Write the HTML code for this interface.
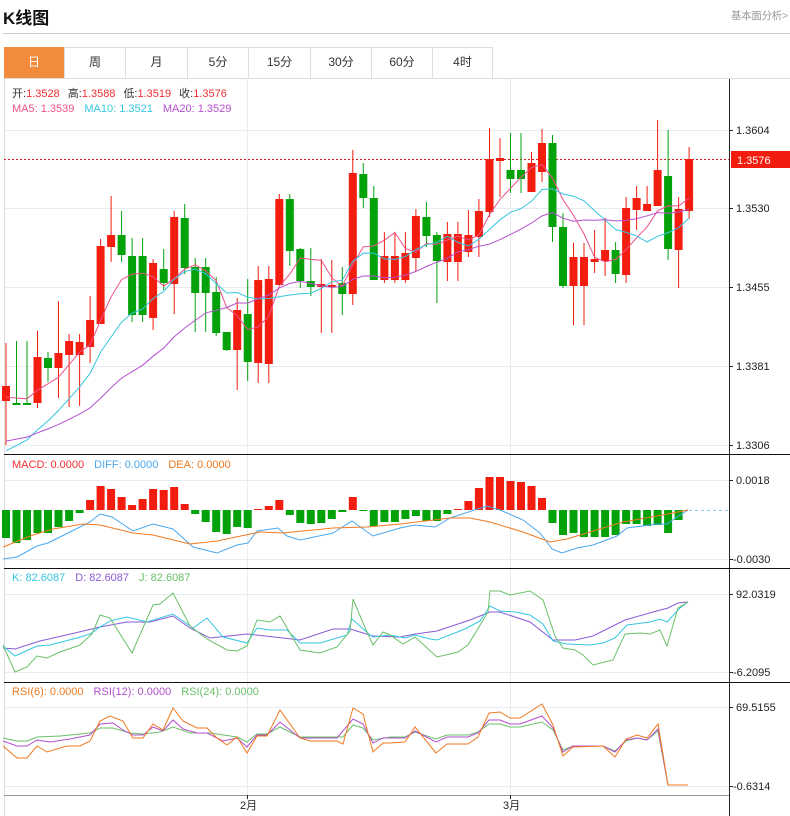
<!DOCTYPE html>
<html><head><meta charset="utf-8"><style>
body{margin:0;width:790px;height:816px;background:#fff;font-family:"Liberation Sans","Noto Sans CJK SC",sans-serif;overflow:hidden;position:relative}
.t{position:absolute;white-space:nowrap}
.tab{position:absolute;top:47px;height:31px;line-height:31px;text-align:center;font-size:12px;color:#333;border-right:1px solid #ddd;box-sizing:border-box}
</style></head><body>
<div class="t" style="left:3px;top:4px;font-size:17px;font-weight:bold;color:#111">K线图</div>
<div class="t" style="left:731px;top:8px;font-size:10.5px;color:#999;letter-spacing:-0.3px">基本面分析&gt;</div>
<div style="position:absolute;left:3px;top:33px;width:787px;height:1px;background:#ccc"></div>
<div style="position:absolute;left:4px;top:47px;width:489px;height:31px;border:1px solid #ddd;border-bottom:none;box-sizing:border-box"></div>
<div style="position:absolute;left:4px;top:78px;width:786px;height:1px;background:#ddd"></div>
<div class="tab" style="left:4px;width:61px;background:#f28c3c;color:#fff">日</div>
<div class="tab" style="left:65px;width:61px">周</div>
<div class="tab" style="left:126px;width:62px">月</div>
<div class="tab" style="left:188px;width:61px">5分</div>
<div class="tab" style="left:249px;width:62px">15分</div>
<div class="tab" style="left:311px;width:61px">30分</div>
<div class="tab" style="left:372px;width:61px">60分</div>
<div class="tab" style="left:433px;width:60px">4时</div>
<svg id="s" width="790" height="816" style="position:absolute;left:0;top:0" xmlns="http://www.w3.org/2000/svg" font-family="Liberation Sans, Noto Sans CJK SC, sans-serif" font-size="12">
<g stroke="#e6ecf2" stroke-width="1">
<line x1="4" y1="130.5" x2="729" y2="130.5"/><line x1="4" y1="208.5" x2="729" y2="208.5"/><line x1="4" y1="287.5" x2="729" y2="287.5"/><line x1="4" y1="366.5" x2="729" y2="366.5"/><line x1="4" y1="445.5" x2="729" y2="445.5"/>
<line x1="4" y1="480.5" x2="729" y2="480.5"/><line x1="4" y1="559.5" x2="729" y2="559.5"/>
<line x1="4" y1="594.5" x2="729" y2="594.5"/><line x1="4" y1="672.5" x2="729" y2="672.5"/>
<line x1="4" y1="707.5" x2="729" y2="707.5"/><line x1="4" y1="786.5" x2="729" y2="786.5"/>
<line x1="247.5" y1="79" x2="247.5" y2="800"/><line x1="510.5" y1="79" x2="510.5" y2="800"/>
</g>
<line x1="4.5" y1="79" x2="4.5" y2="816" stroke="#ddd"/>
<line x1="729.5" y1="79" x2="729.5" y2="816" stroke="#222"/>
<g stroke="#111"><line x1="4" y1="454.5" x2="790" y2="454.5"/><line x1="4" y1="568.5" x2="790" y2="568.5"/><line x1="4" y1="682.5" x2="790" y2="682.5"/></g>
<line x1="4" y1="795.5" x2="729" y2="795.5" stroke="#999"/>
<g stroke="#222"><line x1="729" y1="130.5" x2="733" y2="130.5"/><line x1="729" y1="208.5" x2="733" y2="208.5"/><line x1="729" y1="287.5" x2="733" y2="287.5"/><line x1="729" y1="366.5" x2="733" y2="366.5"/><line x1="729" y1="445.5" x2="733" y2="445.5"/><line x1="729" y1="480.5" x2="733" y2="480.5"/><line x1="729" y1="559.5" x2="733" y2="559.5"/><line x1="729" y1="594.5" x2="733" y2="594.5"/><line x1="729" y1="672.5" x2="733" y2="672.5"/><line x1="729" y1="707.5" x2="733" y2="707.5"/><line x1="729" y1="786.5" x2="733" y2="786.5"/><line x1="247.5" y1="795" x2="247.5" y2="799"/><line x1="510.5" y1="795" x2="510.5" y2="799"/></g>
<g fill="#222" font-size="11">
<text x="736" y="134">1.3604</text><text x="736" y="212">1.3530</text><text x="736" y="291">1.3455</text><text x="736" y="370">1.3381</text><text x="736" y="449">1.3306</text>
<text x="736" y="484">0.0018</text><text x="733" y="563">-0.0030</text>
<text x="736" y="598">92.0319</text><text x="733" y="676">-6.2095</text>
<text x="736" y="711">69.5155</text><text x="733" y="790">-0.6314</text>
<text x="240" y="809">2月</text><text x="503" y="809">3月</text>
</g>
<line x1="4" y1="159.5" x2="729" y2="159.5" stroke="#e0201a" stroke-dasharray="2,2"/>
<rect x="731" y="151" width="59" height="17" fill="#f21d0e"/>
<text x="737" y="164" fill="#fff" font-size="11">1.3576</text>
<line x1="689" y1="510.5" x2="729" y2="510.5" stroke="#8cc8ea" stroke-dasharray="3,3"/>
<g id="c"></g>
<g font-size="11">
<text x="12" y="97" fill="#333">开:<tspan fill="#f03030">1.3528</tspan><tspan fill="#333" dx="8">高:</tspan><tspan fill="#f03030">1.3588</tspan><tspan fill="#333" dx="8">低:</tspan><tspan fill="#f03030">1.3519</tspan><tspan fill="#333" dx="8">收:</tspan><tspan fill="#f03030">1.3576</tspan></text>
<text x="12" y="112" fill="#f0508a">MA5: 1.3539<tspan fill="#35c6e0" dx="10">MA10: 1.3521</tspan><tspan fill="#b44fcf" dx="10">MA20: 1.3529</tspan></text>
<text x="12" y="468" fill="#f03030">MACD: 0.0000<tspan fill="#4aa8f0" dx="10">DIFF: 0.0000</tspan><tspan fill="#f07a20" dx="10">DEA: 0.0000</tspan></text>
<text x="12" y="581" fill="#35c6e0">K: 82.6087<tspan fill="#8a5ad8" dx="10">D: 82.6087</tspan><tspan fill="#6ac06a" dx="10">J: 82.6087</tspan></text>
<text x="12" y="695" fill="#f07a20">RSI(6): 0.0000<tspan fill="#b44fcf" dx="10">RSI(12): 0.0000</tspan><tspan fill="#6ac06a" dx="10">RSI(24): 0.0000</tspan></text>
</g>
</svg>
<script>
var C=[
['r',386,401,343,445],['g',403,404,341,405],['g',403,404,341,405],['r',357,403,331,408],['g',358,368,352,382],['r',353,368,301,398],['r',341,355,334,407],['r',342,355,334,406],['r',320,347,296,363],['r',246,324,239,324],
['r',235,247,196,262],['g',235,255,211,262],['g',256,315,238,322],['g',256,315,238,322],['r',263,318,259,330],['g',269,283,249,290],['r',217,284,211,314],['g',218,268,204,274],['g',267,293,258,332],['g',267,293,258,332],
['g',292,333,277,336],['g',332,350,332,351],['r',310,350,298,390],['g',314,362,279,381],['r',280,363,266,383],['r',279,364,266,383],['r',199,285,194,285],['g',199,251,194,266],['g',249,281,248,288],['g',281,287,248,296],
['r',284,287,259,333],['r',285,287,260,333],['g',283,294,267,315],['r',173,294,150,305],['g',174,198,163,208],['g',198,280,186,280],['r',256,280,232,283],['r',256,280,232,283],['r',253,280,232,283],['r',216,258,209,271],
['g',217,236,202,247],['g',235,261,232,303],['r',234,262,222,281],['r',234,262,222,281],['r',235,252,210,257],['r',211,237,199,257],['r',159,212,128,217],['r',158,161,138,197],['g',170,179,133,193],['g',170,179,133,193],
['r',163,192,152,192],['r',143,172,129,182],['g',143,227,135,242],['g',227,286,213,288],['r',257,286,243,325],['r',257,286,243,325],['r',259,262,230,273],['r',250,261,218,276],['g',250,274,242,283],['r',208,275,197,283],
['r',198,210,186,230],['r',204,211,186,211],['r',170,206,120,206],['g',176,249,130,260],['r',209,250,197,288],['r',159,211,147,219]];
var M=[538,543,540,533,533,527,521,513,500,486,489,497,505,499,489,490,487,504,514,522,532,534,527,528,509,506,500,515,523,524,523,519,512,497,511,526,522,522,519,516,521,521,514,509,501,488,477,477,481,482,486,498,523,535,533,537,537,537,535,524,524,526,525,533,520,510];
var X=function(i){return 6+i*10.51};
var h='',RED='#f21d0e',GRN='#03a20b';
M.forEach(function(v,i){if(v==510)return;var c=v<510?RED:GRN,y=Math.min(v,510),hh=Math.max(1,Math.abs(v-510));h+='<rect x="'+(X(i)-4).toFixed(1)+'" y="'+y+'" width="8" height="'+hh+'" fill="'+c+'"/>';});
var closes=[];
C.forEach(function(c,i){var col=c[0]=='r'?RED:GRN,x=X(i);closes.push(c[0]=='r'?c[1]:c[2]);
h+='<line x1="'+x.toFixed(1)+'" y1="'+c[3]+'" x2="'+x.toFixed(1)+'" y2="'+c[4]+'" stroke="'+col+'" stroke-width="1"/>';
h+='<rect x="'+(x-4).toFixed(1)+'" y="'+c[1]+'" width="8" height="'+Math.max(2,c[2]-c[1])+'" fill="'+col+'"/>';});
function ma(n,col,pv){var p=[],pad=[];for(var k=0;k<n;k++)pad.push(pv);var a=pad.concat(closes);
for(var i=0;i<closes.length;i++){var s=0;for(var k=0;k<n;k++)s+=a[i+n-k];p.push(X(i).toFixed(1)+','+(s/n).toFixed(1));}
h+='<polyline points="'+p.join(' ')+'" fill="none" stroke="'+col+'" stroke-width="1"/>';}
ma(5,'#f0508a',400);ma(10,'#35c6e0',458);ma(20,'#b44fcf',444);
function pl(pts,col){h+='<polyline points="'+pts+'" fill="none" stroke="'+col+'" stroke-width="1"/>';}
pl('3,559 17,557 37,546 48,543 60,537 90,522 100,514 112,517 133,531 153,524 173,529 193,547 217,553 237,545 248,543 257,531 278,528 287,536 300,540 333,533 352,521 373,536 400,528 415,525 435,527 450,518 487,506 500,510 523,520 540,533 552,549 562,553 577,548 593,545 617,536 627,528 657,524 667,524 677,517 688,510','#4aa8f0');
pl('3,547 33,535 53,529 83,524 100,525 133,533 153,535 190,544 217,541 260,532 283,533 333,528 367,527 400,524 450,518 470,518 490,522 523,532 550,542 567,539 623,522 657,516 688,510','#f07a20');
pl('3,648 15,649 40,641 75,633 100,627 127,622 150,622 173,616 190,628 210,638 247,634 283,638 300,640 333,629 350,629 373,636 400,637 415,634 437,631 470,620 490,612 500,612 530,622 553,640 575,640 593,636 625,620 653,612 668,608 678,603 688,602','#8a5ad8');
pl('3,646 15,656 37,646 50,645 77,638 90,634 100,627 110,621 127,617 147,622 173,614 193,628 207,618 223,637 247,643 257,628 270,630 287,630 300,643 320,643 347,635 352,619 370,635 373,637 390,635 405,638 415,635 430,639 437,640 465,629 480,621 490,606 500,611 515,612 530,615 543,624 553,641 567,644 590,645 603,643 615,638 627,625 650,622 660,619 667,622 680,608 688,602','#35c6e0');
pl('3,645 15,672 27,667 37,656 47,658 60,652 80,645 92,634 100,615 110,618 132,653 153,605 160,604 173,593 190,626 207,639 227,650 237,651 247,646 257,620 270,622 280,616 300,650 320,653 337,647 350,631 353,599 363,623 373,645 383,632 390,635 403,644 415,637 437,657 450,654 458,652 468,645 488,612 490,591 500,591 510,595 530,591 543,600 555,636 563,648 575,650 583,655 593,665 613,660 625,634 640,633 650,634 660,630 667,646 678,608 688,602','#6ac06a');
pl('3,738 17,741 27,741 37,737 60,736 90,733 100,728 113,728 130,733 143,734 160,732 173,727 190,733 210,733 237,737 247,742 257,734 267,734 280,727 300,737 343,737 353,725 363,728 373,740 390,737 405,737 415,732 436,739 447,735 468,735 478,732 489,724 500,724 510,727 520,727 542,722 553,730 563,750 573,746 603,746 615,751 626,741 637,738 647,740 658,731 668,785 688,785','#6ac06a');
pl('3,741 17,746 27,746 37,740 50,742 70,739 90,735 100,724 113,723 123,730 133,735 143,735 153,727 163,731 173,720 183,729 197,733 207,733 223,741 237,738 247,747 257,735 267,735 280,722 300,738 337,738 353,719 363,724 373,743 383,738 390,738 405,738 415,731 436,742 447,737 468,737 478,733 489,720 500,720 510,724 520,724 542,716 553,728 563,752 573,746 603,746 615,752 626,740 637,738 647,740 658,729 668,785 688,785','#b44fcf');
pl('3,746 17,758 27,758 37,746 47,752 67,746 80,746 90,741 100,721 110,716 123,721 133,738 143,738 153,724 163,730 173,708 183,721 197,728 207,728 217,738 227,745 237,737 247,753 257,736 267,736 280,710 300,738 310,741 337,741 343,744 353,708 363,714 373,752 383,743 390,743 405,742 415,727 436,753 447,744 468,744 478,737 489,713 500,712 510,718 520,718 542,704 553,725 563,756 573,747 603,746 615,757 626,739 637,735 647,738 658,724 668,785 688,785','#f07a20');
document.getElementById('c').innerHTML=h;
</script>
</body></html>
